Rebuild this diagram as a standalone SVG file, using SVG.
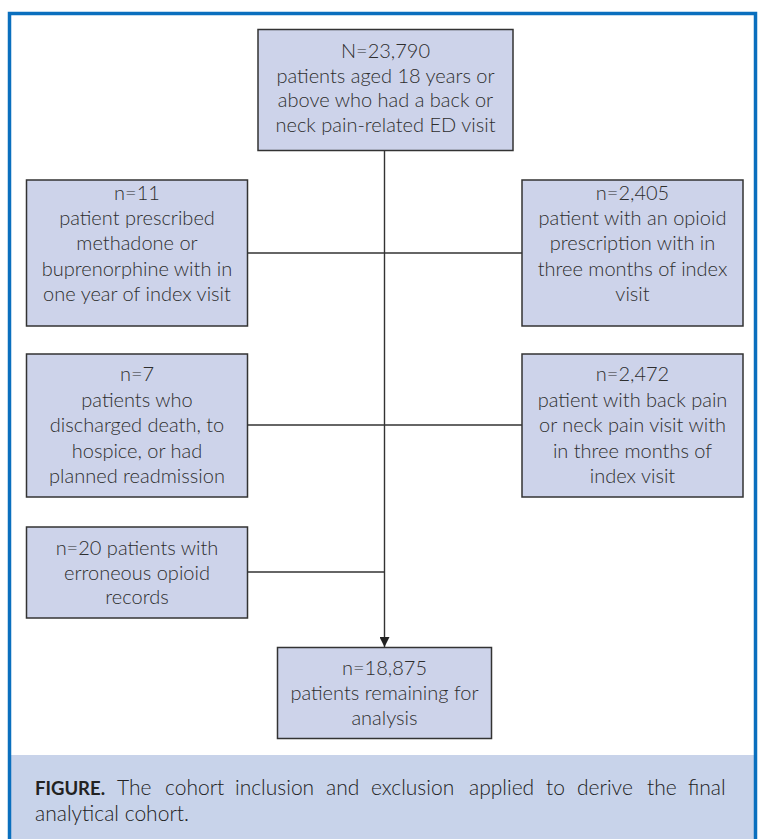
<svg xmlns="http://www.w3.org/2000/svg" width="761" height="839" viewBox="0 0 761 839">
<defs>
<style>
.box{fill:#CDD3EA;stroke:#333;stroke-width:1.5}
.t{font-family:Lato,"Open Sans","Liberation Sans",sans-serif;font-weight:300;font-size:20px;fill:#2e2e2e;text-anchor:middle}
.c{stroke:#333;stroke-width:1.4;fill:none}
.cap{font-family:Lato,"Open Sans","Liberation Sans",sans-serif;font-size:21px;fill:#222;font-weight:300}
.capb{font-weight:700;font-size:18.5px}
</style>
<marker id="ah" viewBox="0 0 10 10" refX="10" refY="5" markerWidth="10" markerHeight="10" markerUnits="userSpaceOnUse" orient="auto">
<path d="M0,0 L10,5 L0,10 z" fill="#222"/>
</marker>
</defs>
<rect x="0" y="0" width="761" height="839" fill="#fff"/>
<rect x="11" y="755" width="743" height="84" fill="#C8D3EA"/>
<path d="M9.5,839 V13.5 H755.5 V839" fill="none" stroke="#0A6FBE" stroke-width="3.5"/>

<g id="connectors">
<line class="c" x1="384.5" y1="151" x2="384.5" y2="647" marker-end="url(#ah)"/>
<line class="c" x1="247" y1="253" x2="522" y2="253"/>
<line class="c" x1="247" y1="425" x2="522" y2="425"/>
<line class="c" x1="247" y1="572" x2="384.5" y2="572"/>
</g>

<g id="n_total">
<rect class="box" x="258" y="29.5" width="255" height="121"/>
<text class="t" x="385.5" y="58">N=23,790</text>
<text class="t" x="385.5" y="82.5">patients aged 18 years or</text>
<text class="t" x="385.5" y="107">above who had a back or</text>
<text class="t" x="385.5" y="131.5">neck pain-related ED visit</text>
</g>

<g id="n_methadone">
<rect class="box" x="26.5" y="180" width="221" height="146"/>
<text class="t" x="137" y="199.5">n=11</text>
<text class="t" x="137" y="224.5">patient prescribed</text>
<text class="t" x="137" y="250">methadone or</text>
<text class="t" x="137" y="275.5">buprenorphine with in</text>
<text class="t" x="137" y="301">one year of index visit</text>
</g>

<g id="n_opioid">
<rect class="box" x="522" y="180" width="221" height="146"/>
<text class="t" x="632.5" y="199.5">n=2,405</text>
<text class="t" x="632.5" y="224.5">patient with an opioid</text>
<text class="t" x="632.5" y="250">prescription with in</text>
<text class="t" x="632.5" y="275.5">three months of index</text>
<text class="t" x="632.5" y="301">visit</text>
</g>

<g id="n_death">
<rect class="box" x="26.5" y="354" width="221" height="143"/>
<text class="t" x="137" y="381">n=7</text>
<text class="t" x="137" y="406.5">patients who</text>
<text class="t" x="137" y="432">discharged death, to</text>
<text class="t" x="137" y="457.5">hospice, or had</text>
<text class="t" x="137" y="483">planned readmission</text>
</g>

<g id="n_backpain">
<rect class="box" x="522" y="354" width="221" height="143"/>
<text class="t" x="632.5" y="381">n=2,472</text>
<text class="t" x="632.5" y="406.5">patient with back pain</text>
<text class="t" x="632.5" y="432">or neck pain visit with</text>
<text class="t" x="632.5" y="457.5">in three months of</text>
<text class="t" x="632.5" y="483">index visit</text>
</g>

<g id="n_erroneous">
<rect class="box" x="26.5" y="527" width="221" height="91"/>
<text class="t" x="137" y="555">n=20 patients with</text>
<text class="t" x="137" y="579.5">erroneous opioid</text>
<text class="t" x="137" y="604">records</text>
</g>

<g id="n_final">
<rect class="box" x="277.5" y="647.5" width="214" height="91"/>
<text class="t" x="384.5" y="675">n=18,875</text>
<text class="t" x="384.5" y="700">patients remaining for</text>
<text class="t" x="384.5" y="725">analysis</text>
</g>

<g id="caption">
<text class="cap" y="795"><tspan class="capb" x="35">FIGURE.</tspan><tspan x="117">The</tspan><tspan x="165">cohort</tspan><tspan x="235">inclusion</tspan><tspan x="326">and</tspan><tspan x="371">exclusion</tspan><tspan x="469">applied</tspan><tspan x="546">to</tspan><tspan x="577">derive</tspan><tspan x="647">the</tspan><tspan x="688">final</tspan></text>
<text class="cap" x="35" y="821">analytical cohort.</text>
</g>
</svg>
